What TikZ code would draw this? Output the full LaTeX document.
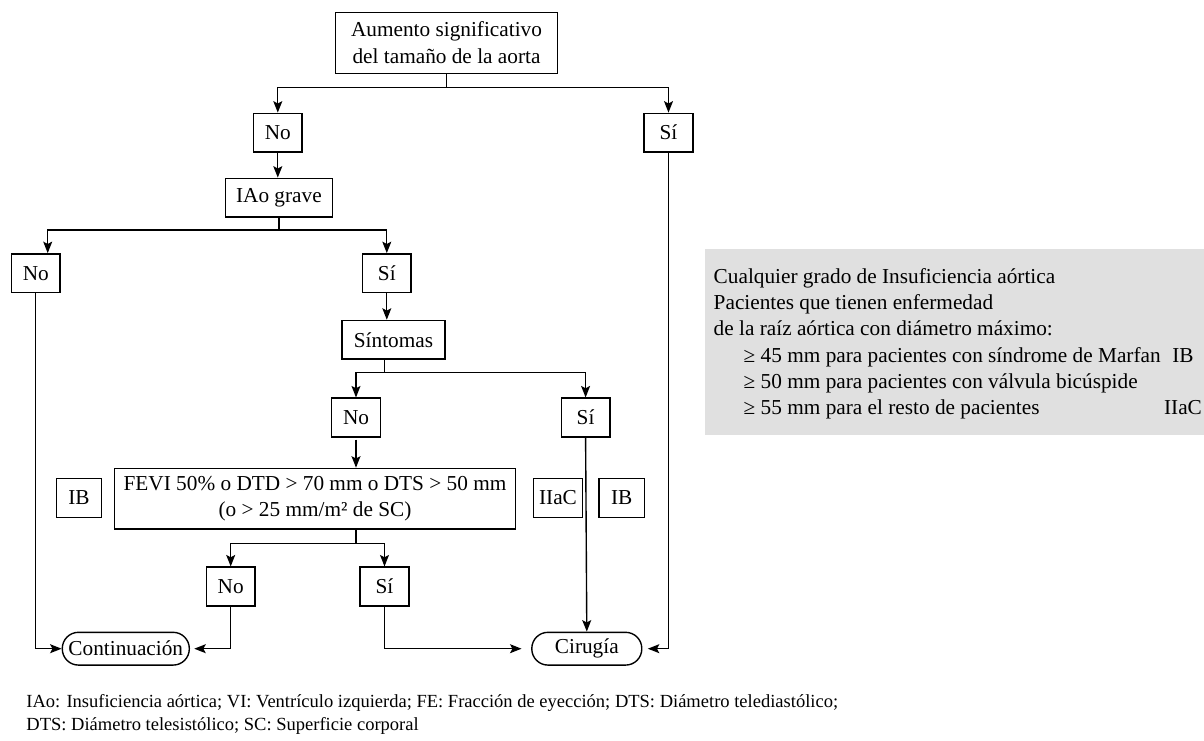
\documentclass[tikz,border=0pt]{standalone}
\usepackage{fontspec}
\setmainfont{Liberation Serif}
\usepackage{tikz}
\usetikzlibrary{arrows.meta}
\definecolor{fondo}{RGB}{224,224,224}
\tikzset{
    caja/.style={draw, line width=0.65pt, inner sep=1pt, minimum width=22.9pt, minimum height=18.2pt},
    fin/.style={draw, line width=0.65pt, rounded corners=7.6pt, inner sep=1pt, minimum height=15.4pt},
    flecha/.style={line width=0.65pt, -{Stealth[length=5.4pt, width=4.2pt, inset=1.1pt]}},
    texto/.style={inner sep=0pt, anchor=base west}}

\begin{document}
\begin{tikzpicture}[x=0.47pt, y=-0.47pt, font=\fontsize{10}{12.6}\selectfont]
    \useasboundingbox (0,0) rectangle (1204,741);

    \node[caja, align=center, minimum width=104.3pt, minimum height=28.5pt] (aorta) at (446.5,43) {Aumento significativo\\del tamaño de la aorta};
    \node[caja] (no1) at (277.8,132.7) {No};
    \node[caja] (si1) at (668.5,132.7) {Sí};
    \node[caja, minimum width=50.3pt] (iao) at (278.9,197.7) {IAo grave};
    \node[caja] (no2) at (35.8,273.2) {No};
    \node[caja] (si2) at (386.8,273.2) {Sí};
    \node[caja, minimum width=48.4pt] (sint) at (393.5,339.8) {Síntomas};
    \node[caja] (no3) at (356,417.5) {No};
    \node[caja] (si3) at (585.6,417.5) {Sí};
    \node[caja, align=center, minimum width=188.2pt, minimum height=28.5pt] (fevi) at (315,498.7) {FEVI 50\% o DTD > 70 mm o DTS > 50 mm\\(o > 25 mm/m² de SC)};
    \node[caja, minimum width=21.2pt] (ibI) at (79,498) {IB};
    \node[caja, minimum width=23pt] (iiac) at (558,498) {IIaC};
    \node[caja, minimum width=21.2pt] (ibD) at (621.7,498) {IB};
    \node[caja] (no4) at (230.7,586.5) {No};
    \node[caja] (si4) at (384.5,586.5) {Sí};
    \node[fin, minimum width=59.7pt] (cont) at (125.8,648.7) {Continuación};
    \node[fin, minimum width=51.7pt] (cir) at (586.8,648.7) {Cirugía};

    \coordinate (r1) at (446.5,87.7);
    \coordinate (r2) at (278.9,230);
    \coordinate (r3) at (384.8,372.3);
    \coordinate (r4) at (356,543.3);

    \draw[flecha] (aorta.south) -- (r1) -| (no1.north);
    \draw[flecha] (r1) -| (si1.north);
    \draw[flecha] (no1.south) -- (no1.south |- iao.north);
    \draw[flecha] (iao.south) -- (r2) -| ([xshift=5.6pt]no2.north);
    \draw[flecha] (r2) -| (si2.north);
    \draw[flecha] (si2.south) -- (si2.south |- sint.north);
    \draw[flecha] (r3 |- sint.south) -- (r3) -| (no3.north);
    \draw[flecha] (r3) -| (si3.north);
    \draw[flecha, shorten <=1pt] (no3.south) -- (no3.south |- fevi.north);
    \draw[flecha] (r4 |- fevi.south) -- (r4) -| (no4.north);
    \draw[flecha] (r4) -| (si4.north);
    \draw[flecha] (no2.south) |- (cont.west);
    \draw[flecha, shorten >=2pt] (no4.south) |- (cont.east);
    \draw[flecha, shorten >=4.5pt] (si4.south) |- (cir.west);
    \draw[flecha] (si3.south) -- (cir.north);
    \draw[flecha, shorten >=2.5pt] (si1.south) |- (cir.east);

    \node[fill=fondo, inner sep=0pt, minimum width=237.4pt, minimum height=87.4pt, anchor=north west] (panel) at (705,249) {};
    \node[texto] (p1) at (713.3,283.2) {Cualquier grado de Insuficiencia aórtica};
    \node[texto] (p2) at (713.3,309.5) {Pacientes que tienen enfermedad};
    \node[texto] (p3) at (713.3,335.8) {de la raíz aórtica con diámetro máximo:};
    \node[texto] (p4) at (743.3,362.1) {≥ 45 mm para pacientes con síndrome de Marfan};
    \node[texto] (p5) at (743.3,388.4) {≥ 50 mm para pacientes con válvula bicúspide};
    \node[texto] (p6) at (743.3,414.7) {≥ 55 mm para el resto de pacientes};
    \node[inner sep=0pt, anchor=base] (g1) at (1183,362.1) {IB};
    \node[inner sep=0pt, anchor=base] (g2) at (1183,414.7) {IIaC};

    \node[texto, font=\fontsize{8.7}{10.8}\selectfont] (n1) at (26,707.2) {IAo: Insuficiencia aórtica; VI: Ventrículo izquierda; FE: Fracción de eyección; DTS: Diámetro telediastólico;};
    \node[texto, font=\fontsize{8.7}{10.8}\selectfont] (n2) at (26,730.5) {DTS: Diámetro telesistólico; SC: Superficie corporal};

\end{tikzpicture}
\end{document}
